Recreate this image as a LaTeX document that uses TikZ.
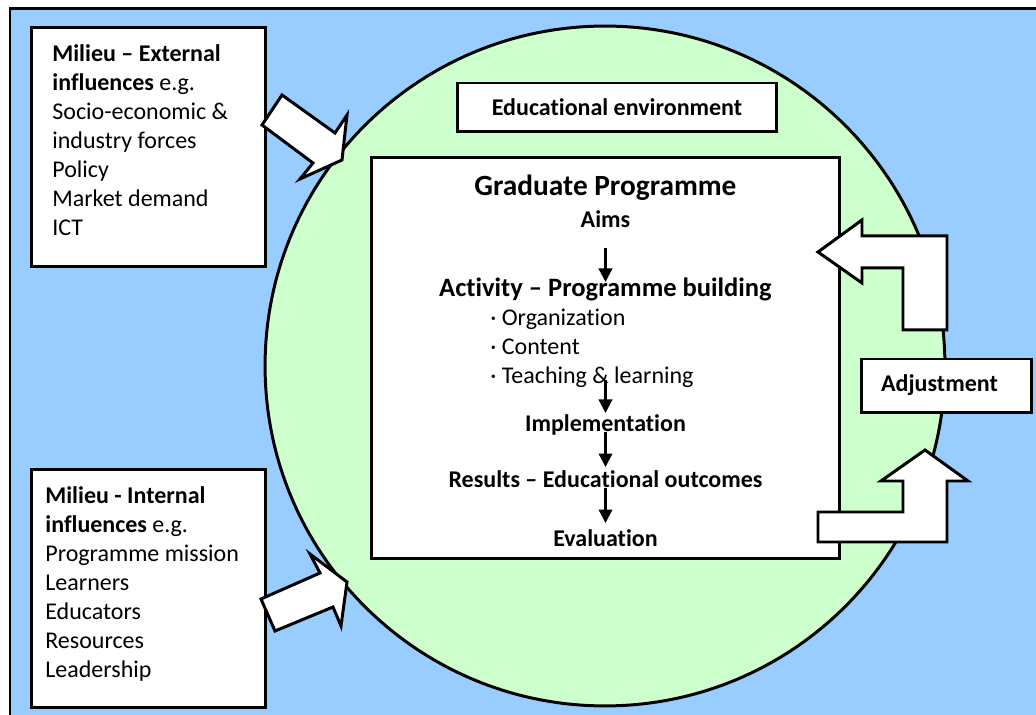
\documentclass[tikz,border=0pt]{standalone}
\usepackage{fontspec}
\setmainfont{Carlito}[Ligatures=NoCommon]
\usetikzlibrary{arrows.meta}
\definecolor{milieublue}{HTML}{99CCFF}
\definecolor{envgreen}{HTML}{CCFFCC}
\newcommand{\basesize}{\fontsize{13.66}{16.5}\selectfont}

\begin{document}
\begin{tikzpicture}[x=0.02cm, y=-0.02cm,
    outline/.style={draw=black, line width=1.7pt, line join=miter},
    infobox/.style={outline, fill=white, inner sep=0pt},
    txt/.style={inner sep=0pt, font=\basesize},
    boldtxt/.style={inner sep=0pt, font=\basesize\bfseries},
    flow/.style={line width=1.3pt, -{Triangle[width=0.27cm, length=0.27cm]}}]
  \useasboundingbox (0,0) rectangle (1036,715);
  \clip (0,0) rectangle (1036,715);

  % ---- the milieu and the educational environment ----
  \fill[milieublue] (10,9) rectangle (1050,730);
  \draw[outline] (10,9) rectangle (1050,730);
  \draw[outline, fill=envgreen] (605,366) circle (6.8cm);

  % ---- external and internal influences ----
  \node[infobox, minimum width=4.70cm, minimum height=4.80cm] (external) at (148.5,147) {};
  \foreach \txt [count=\i from 0] in {\textbf{Milieu – External}, {\textbf{influences} e.g.},
      Socio-economic \&, industry forces, Policy, Market demand, ICT}
    \node[txt, anchor=base west] (ext-\i) at (52,{62+29*\i}) {\txt};

  \node[infobox, minimum width=4.70cm, minimum height=4.78cm] (internal) at (148.5,588.5) {};
  \foreach \txt [count=\i from 0] in {\textbf{Milieu - Internal}, {\textbf{influences} e.g.},
      Programme mission, Learners, Educators, Resources, Leadership}
    \node[txt, anchor=base west] (int-\i) at (45,{504+29*\i}) {\txt};

  % ---- block arrows from the milieu into the environment ----
  \draw[outline, fill=white] (262,125) -- (282,95) -- (335,133) -- (347,115)
    -- (342,160) -- (300,179) -- (313,163) -- cycle;
  \draw[outline, fill=white] (275,631) -- (261,599) -- (320,573) -- (310,554)
    -- (347,582) -- (341,626) -- (333,607) -- cycle;

  \node[infobox, minimum width=6.40cm, minimum height=0.98cm, font=\basesize\bfseries]
    (env) at (617,107.5) {Educational environment};

  % ---- the programme itself ----
  \node[infobox, minimum width=9.38cm, minimum height=8.04cm] (prog) at (605.5,358) {};
  \node[inner sep=0pt, anchor=base, font=\fontsize{16.7}{20}\selectfont\bfseries]
    (title) at (605.5,196) {Graduate Programme};
  \node[boldtxt, anchor=base] (aims) at (605.5,228) {Aims};
  \node[inner sep=0pt, anchor=base, font=\fontsize{15.1}{18}\selectfont\bfseries]
    (activity) at (605.5,297) {Activity – Programme building};
  \foreach \txt [count=\i from 0] in {Organization, Content, Teaching \& learning}
    \node[txt, anchor=base west] (part-\i) at (490,{326+29*\i}) {· \txt};
  \node[boldtxt, anchor=base] (impl) at (605.5,432) {Implementation};
  \node[boldtxt, anchor=base] (results) at (605.5,488) {Results – Educational outcomes};
  \node[boldtxt, anchor=base] (eval) at (605.5,547) {Evaluation};

  \draw[flow, shorten <=0.40cm, shorten >=0.30cm] (aims.base) -- (activity.base);
  \draw[flow, shorten <=-0.08cm, shorten >=0.38cm] (part-2.base -| impl.base) -- (impl.base);
  \draw[flow, shorten >=0.42cm] (impl.base) -- (results.base);
  \draw[flow, shorten >=0.48cm] (results.base) -- (eval.base);

  % ---- adjustment loop on the right ----
  \node[infobox, minimum width=3.42cm, minimum height=1.08cm] (adjust) at (946.5,386) {};
  \node[boldtxt, anchor=base] (adjust-txt) at (939.5,392) {Adjustment};
  \draw[outline, fill=white] (818,252) -- (862,220) -- (862,236) -- (947,236) -- (947,330)
    -- (903,330) -- (903,268) -- (862,268) -- (862,283) -- cycle;
  \draw[outline, fill=white] (925,450) -- (968,481) -- (947,481) -- (947,542) -- (818,542)
    -- (818,512) -- (903,512) -- (903,481) -- (881,481) -- cycle;
\end{tikzpicture}
\end{document}
